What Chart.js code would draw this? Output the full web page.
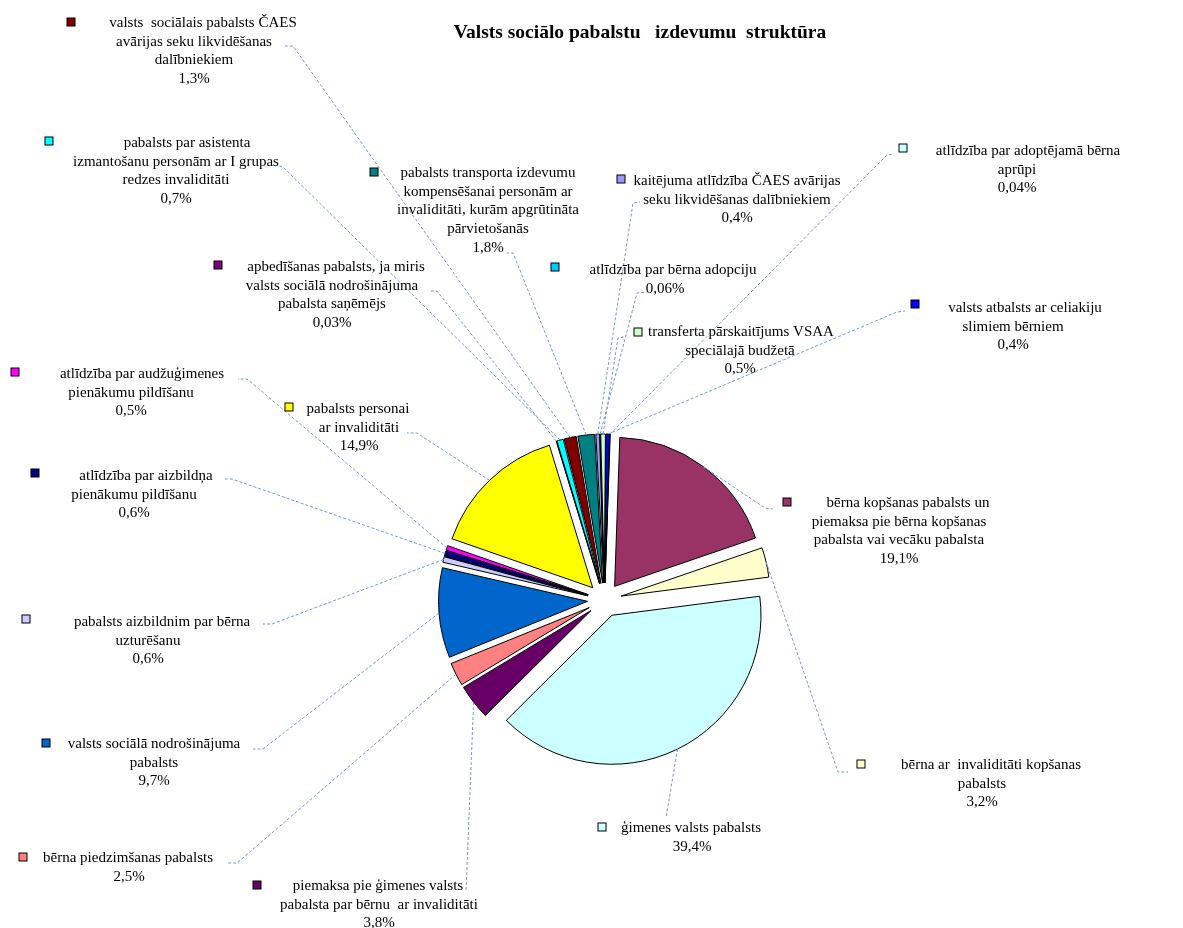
<!DOCTYPE html>
<html><head><meta charset="utf-8">
<script src="https://cdn.jsdelivr.net/npm/chart.js@4.4.1/dist/chart.umd.min.js"></script>
<style>html,body{margin:0;padding:0;background:#fff;} #wrap{width:1183px;height:928px;}</style>
</head><body><div id="wrap"><canvas id="c" width="1183" height="928"></canvas></div>
<script>
const chartTitle = 'Valsts sociālo pabalstu   izdevumu  struktūra';
const categoryLines = [
 ["bērna kopšanas pabalsts un","piemaksa pie bērna kopšanas","pabalsta vai vecāku pabalsta"],
 ["bērna ar  invaliditāti kopšanas","pabalsts"],
 ["ģimenes valsts pabalsts"],
 ["piemaksa pie ģimenes valsts","pabalsta par bērnu  ar invaliditāti"],
 ["bērna piedzimšanas pabalsts"],
 ["valsts sociālā nodrošinājuma","pabalsts"],
 ["pabalsts aizbildnim par bērna","uzturēšanu"],
 ["atlīdzība par aizbildņa","pienākumu pildīšanu"],
 ["atlīdzība par audžuģimenes","pienākumu pildīšanu"],
 ["pabalsts personai","ar invaliditāti"],
 ["apbedīšanas pabalsts, ja miris","valsts sociālā nodrošinājuma","pabalsta saņēmējs"],
 ["pabalsts par asistenta","izmantošanu personām ar I grupas","redzes invaliditāti"],
 ["valsts  sociālais pabalsts ČAES","avārijas seku likvidēšanas","dalībniekiem"],
 ["pabalsts transporta izdevumu","kompensēšanai personām ar","invaliditāti, kurām apgrūtināta","pārvietošanās"],
 ["kaitējuma atlīdzība ČAES avārijas","seku likvidēšanas dalībniekiem"],
 ["atlīdzība par bērna adopciju"],
 ["transferta pārskaitījums VSAA","speciālajā budžetā"],
 ["valsts atbalsts ar celiakiju","slimiem bērniem"],
 ["atlīdzība par adoptējamā bērna","aprūpi"]
];
const categories = categoryLines.map(l => l.join(' '));
const shares = [19.1, 3.2, 39.4, 3.8, 2.5, 9.7, 0.6, 0.6, 0.5, 14.9, 0.03, 0.7, 1.3, 1.8, 0.4, 0.06, 0.5, 0.4, 0.04];
const colors = ['#993366','#FFFFCC','#CCFFFF','#660066','#FF8080','#0066CC','#CCCCFF','#000080','#FF00FF','#FFFF00','#800080','#00FFFF','#800000','#008080','#9999FF','#00CCFF','#CCFFCC','#0000FF','#CCFFFF'];

// label placement (text boxes and leader-line elbows), not data
const labelLayout = [
 {mx:787,my:502,c1:908,c:899,y:503,e:[765,508],a:[773,509]},
 {mx:861,my:764,c1:991,c:982,y:765,e:[838,772],a:[848,772]},
 {mx:602,my:827,c1:691,c:692,y:828,e:[666,818],a:[666,818]},
 {mx:257,my:885,c1:378,c:379,y:886,e:[466,892],a:[466,892]},
 {mx:23,my:857,c1:128,c:129,y:858,e:[237,863],a:[227,863]},
 {mx:46,my:743,c1:154,c:154,y:744,e:[263,749],a:[253,749]},
 {mx:26,my:619,c1:162,c:148,y:622,e:[272,624],a:[263,624]},
 {mx:35,my:473,c1:146,c:134,y:476,e:[232,479],a:[223,479]},
 {mx:15,my:372,c1:142,c:131,y:374,e:[247,379],a:[238,379]},
 {mx:289,my:407,c1:358,c:359,y:409,e:[417,433],a:[407,433]},
 {mx:218,my:265,c1:336,c:332,y:267,e:[437,291],a:[430,291]},
 {mx:49,my:141,c1:187,c:176,y:143,e:[283,167],a:[277,165]},
 {mx:71,my:22,c1:203,c:194,y:23,e:[293,46],a:[285,46]},
 {mx:374,my:172,c1:488,c:488,y:173,e:[513,253],a:[507,253]},
 {mx:621,my:179,c1:737,c:737,y:181,e:[633,203],a:[640,202]},
 {mx:555,my:267,c1:673,c:665,y:270,e:[637,293],a:[647,292]},
 {mx:638,my:332,c1:741,c:740,y:332,e:[618,338],a:[624,337]},
 {mx:915,my:304,c1:1025,c:1013,y:308,e:[897,312],a:[905,311]},
 {mx:903,my:148,c1:1028,c:1017,y:151,e:[887,155],a:[893,154]}
];
const EXPLODE = 17;
const LINE_H = 18.7;
const LABEL_FONT = "15px 'Liberation Serif'";
const TITLE_FONT = "bold 19.5px 'Liberation Serif'";

const fmtPct = v => String(v).replace('.', ',') + '%';

const explodePlugin = {
  id: 'explode',
  beforeDatasetDraw(chart, args) {
    const ctx = chart.ctx;
    args.meta.data.forEach(arc => {
      const mid = (arc.startAngle + arc.endAngle) / 2;
      ctx.save();
      ctx.translate(Math.cos(mid) * EXPLODE, Math.sin(mid) * EXPLODE);
      arc.draw(ctx);
      ctx.restore();
    });
    return false;
  }
};

const labelPlugin = {
  id: 'labels',
  afterDraw(chart) {
    const ctx = chart.ctx;
    const meta = chart.getDatasetMeta(0);
    ctx.save();
    ctx.font = TITLE_FONT;
    ctx.fillStyle = '#000';
    ctx.textAlign = 'center';
    ctx.textBaseline = 'middle';
    ctx.fillText(chartTitle, 640, 33);
    ctx.restore();
    ctx.save();
    ctx.strokeStyle = '#6f9bd6';
    ctx.lineWidth = 1;
    ctx.setLineDash([3, 2]);
    meta.data.forEach((arc, i) => {
      const L = labelLayout[i];
      const mid = (arc.startAngle + arc.endAngle) / 2;
      const r = arc.outerRadius + EXPLODE;
      const px = arc.x + Math.cos(mid) * r;
      const py = arc.y + Math.sin(mid) * r;
      ctx.beginPath();
      ctx.moveTo(px, py);
      ctx.lineTo(L.e[0], L.e[1]);
      ctx.lineTo(L.a[0], L.a[1]);
      ctx.stroke();
    });
    ctx.restore();
    ctx.save();
    ctx.font = LABEL_FONT;
    ctx.textAlign = 'center';
    ctx.textBaseline = 'middle';
    meta.data.forEach((arc, i) => {
      const L = labelLayout[i];
      ctx.fillStyle = '#000';
      ctx.fillRect(L.mx - 4.5, L.my - 4.5, 9, 9);
      ctx.fillStyle = colors[i];
      ctx.fillRect(L.mx - 3.5, L.my - 3.5, 7, 7);
      ctx.fillStyle = '#000';
      const lines = categoryLines[i].concat([fmtPct(shares[i])]);
      lines.forEach((t, k) => {
        ctx.fillText(t, k === 0 ? L.c1 : L.c, L.y + k * LINE_H);
      });
    });
    ctx.restore();
  }
};

new Chart(document.getElementById('c'), {
  type: 'pie',
  data: {
    labels: categories,
    datasets: [{
      data: shares,
      backgroundColor: colors,
      borderColor: '#000',
      borderWidth: 1,
      offset: 0,
      hoverOffset: 0,
      radius: 149,
      rotation: 2
    }]
  },
  options: {
    responsive: false,
    animation: false,
    events: [],
    layout: { padding: { left: 26, right: 0, top: 272, bottom: 0 } },
    plugins: { legend: { display: false }, tooltip: { enabled: false }, title: { display: false } }
  },
  plugins: [explodePlugin, labelPlugin]
});
</script>
</body></html>
